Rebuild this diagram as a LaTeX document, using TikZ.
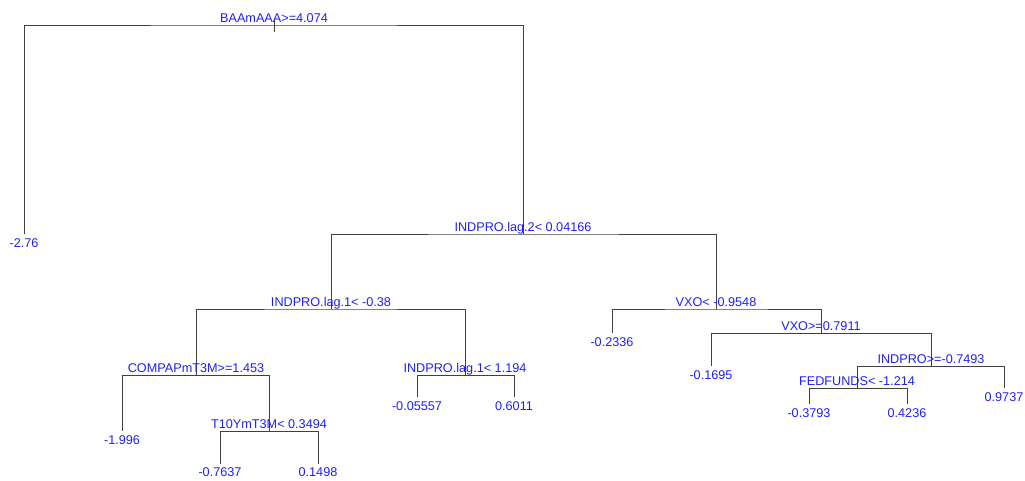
\documentclass[tikz,border=0pt]{standalone}
\usepackage{fontspec}
\setmainfont{Liberation Sans}
\usetikzlibrary{positioning}
\definecolor{labblue}{RGB}{30,30,255}
\definecolor{branchgray}{RGB}{64,64,64}

\begin{document}
\begin{tikzpicture}[x=0.75pt,y=-0.75pt,
  branch/.style={draw=branchgray,line width=0.75pt},
  splitlab/.style={text=labblue,inner sep=0pt,text depth=0pt,font=\fontsize{9.5}{11}\selectfont},
  leaflab/.style={text=labblue,inner sep=0pt,text height=6.8pt,font=\fontsize{9.5}{11}\selectfont}]
  \useasboundingbox (0,0) rectangle (1025,480);
  % split points (stem x, bar y) and leaf ends
  \coordinate (n1) at (274,25);
  \coordinate (n1top) at (274,20);
  \coordinate (n1bot) at (274,32);
  \coordinate (n2) at (24,234);
  \coordinate (n3) at (523,234);
  \coordinate (n6) at (331,309);
  \coordinate (n7) at (716,309);
  \coordinate (n12) at (196,375);
  \coordinate (n13) at (465,375);
  \coordinate (n24) at (122,431);
  \coordinate (n25) at (269,431);
  \coordinate (n50) at (220,464);
  \coordinate (n51) at (318,464);
  \coordinate (n26) at (417,397);
  \coordinate (n27) at (514,397);
  \coordinate (n14) at (612,333);
  \coordinate (n15) at (821,333);
  \coordinate (n30) at (711,366);
  \coordinate (n31) at (931,366);
  \coordinate (n62) at (857,388);
  \coordinate (n63) at (1004,388);
  \coordinate (n124) at (809,404);
  \coordinate (n125) at (907,404);
  % branches
  \draw[branch] (n1top) -- (n1bot);
  \draw[branch] (n2) |- (n1) -| (n3);
  \draw[branch] (n6) |- (n3) -| (n7);
  \draw[branch] (n12) |- (n6) -| (n13);
  \draw[branch] (n24) |- (n12) -| (n25);
  \draw[branch] (n50) |- (n25) -| (n51);
  \draw[branch] (n26) |- (n13) -| (n27);
  \draw[branch] (n14) |- (n7) -| (n15);
  \draw[branch] (n30) |- (n15) -| (n31);
  \draw[branch] (n62) |- (n31) -| (n63);
  \draw[branch] (n124) |- (n62) -| (n125);
  % split labels
  \node[splitlab,above=1.85pt of n1] (l1) {BAAmAAA>=4.074};
  \node[splitlab,above=1.85pt of n3] (l3) {INDPRO.lag.2< 0.04166};
  \node[splitlab,above=1.85pt of n6] (l6) {INDPRO.lag.1< -0.38};
  \node[splitlab,above=1.85pt of n7] (l7) {VXO< -0.9548};
  \node[splitlab,above=1.85pt of n12] (l12) {COMPAPmT3M>=1.453};
  \node[splitlab,above=1.85pt of n13] (l13) {INDPRO.lag.1< 1.194};
  \node[splitlab,above=1.85pt of n25] (l25) {T10YmT3M< 0.3494};
  \node[splitlab,above=1.85pt of n15] (l15) {VXO>=0.7911};
  \node[splitlab,above=1.85pt of n31] (l31) {INDPRO>=-0.7493};
  \node[splitlab,above=1.85pt of n62] (l62) {FEDFUNDS< -1.214};
  % leaf labels
  \node[leaflab,below=3pt of n2] (l2) {-2.76};
  \node[leaflab,below=3pt of n24] (l24) {-1.996};
  \node[leaflab,below=2.5pt of n50] (l50) {-0.7637};
  \node[leaflab,below=2.5pt of n51] (l51) {0.1498};
  \node[leaflab,below=3pt of n26] (l26) {-0.05557};
  \node[leaflab,below=3pt of n27] (l27) {0.6011};
  \node[leaflab,below=3pt of n14] (l14) {-0.2336};
  \node[leaflab,below=3pt of n30] (l30) {-0.1695};
  \node[leaflab,below=3pt of n63] (l63) {0.9737};
  \node[leaflab,below=3pt of n124] (l124) {-0.3793};
  \node[leaflab,below=3pt of n125] (l125) {0.4236};
\end{tikzpicture}
\end{document}
